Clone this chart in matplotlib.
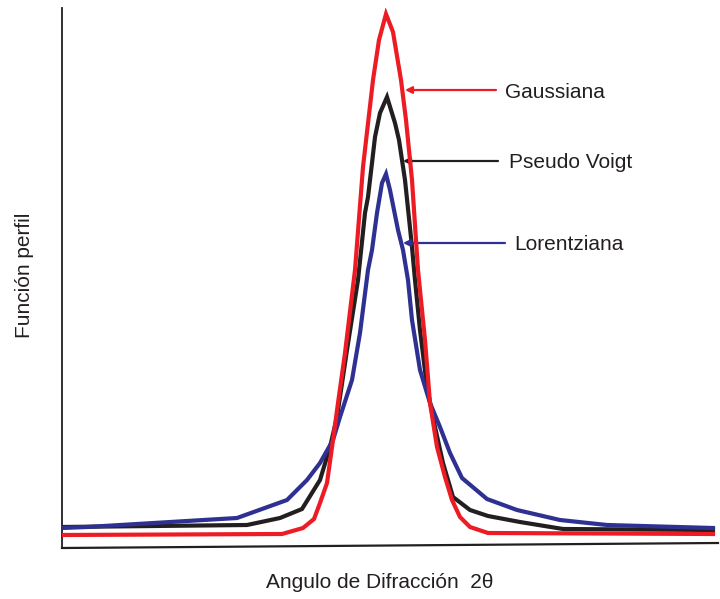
import matplotlib
matplotlib.use("Agg")
import matplotlib.pyplot as plt

plt.rcParams['font.family'] = ['Liberation Sans', 'DejaVu Sans']

# Curves: x position (arbitrary 2θ units), y = profile intensity (arbitrary units)
gauss_x = [0, 220, 241, 252, 258, 265, 271, 276, 283, 293, 301, 311, 317, 324, 331, 339, 344, 350, 356, 363, 368, 375, 383, 390, 398, 408, 426, 651]
gauss_y = [13, 14, 20, 29, 45, 65, 108, 145, 195, 278, 381, 468, 508, 534, 516, 468, 428, 368, 278, 208, 145, 101, 71, 48, 31, 21, 15, 14]

voigt_x = [0, 185, 218, 240, 258, 268, 275, 285, 296, 303, 306, 310, 313, 318, 325, 333, 337, 343, 350, 353, 358, 365, 373, 381, 391, 408, 426, 458, 501, 651]
voigt_y = [21, 23, 30, 39, 68, 101, 131, 198, 268, 335, 351, 385, 411, 435, 451, 425, 408, 368, 301, 268, 218, 161, 121, 85, 51, 38, 32, 26, 19, 18]

lorentz_x = [0, 25, 175, 225, 245, 258, 271, 278, 290, 298, 306, 310, 315, 320, 324, 328, 336, 341, 346, 350, 358, 368, 378, 388, 400, 425, 455, 498, 545, 651]
lorentz_y = [20, 21, 30, 48, 68, 85, 108, 131, 168, 215, 278, 298, 335, 365, 374, 358, 318, 298, 268, 228, 178, 145, 121, 95, 70, 49, 38, 28, 23, 20]

labels = ["Gaussiana", "Pseudo Voigt", "Lorentziana"]
colors = ["#ED1C24", "#231F20", "#2E3192"]

fig = plt.figure(figsize=(7.2, 5.99), dpi=100)
ax = fig.add_axes([62/720, 51/599, 656/720, 540/599])
ax.set_xlim(0, 656)
ax.set_ylim(0, 540)

lw = 3.0
ax.plot(voigt_x, voigt_y, color=colors[1], lw=lw, solid_joinstyle='miter', zorder=3)
ax.plot(lorentz_x, lorentz_y, color=colors[2], lw=lw, solid_joinstyle='miter', zorder=4)
ax.plot(gauss_x, gauss_y, color=colors[0], lw=lw, solid_joinstyle='miter', zorder=5)

for s in ['top', 'right', 'bottom']:
    ax.spines[s].set_visible(False)
ax.spines['left'].set_linewidth(1.3)
ax.spines['left'].set_color('#231F20')
# slightly slanted baseline as in the original drawing
ax.plot([0, 1], [0, 5/540], transform=ax.transAxes, color='#231F20', lw=1.6, clip_on=False, zorder=6)
ax.set_xticks([])
ax.set_yticks([])

# annotations: (arrow tip x, y, tail x, label x, label y)
ann = [
    (343, 458, 434, 443, 456),
    (341, 387, 436, 447, 386),
    (341, 305, 443, 452, 303),
]
for (lab, col, (tx, ty, sx, txx, tyy)) in zip(labels, colors, ann):
    ax.annotate('', xy=(tx, ty), xytext=(sx, ty),
                arrowprops=dict(arrowstyle='-|>', color=col, lw=1.6,
                                mutation_scale=10, shrinkA=0, shrinkB=0))
    ax.text(txx, tyy, lab, fontsize=15, color='#231F20', va='center', ha='left')

fig.text(380/720, 1 - 582/599, "Angulo de Difracción  2θ", fontsize=15,
         color='#231F20', ha='center', va='center')
fig.text(25/720, 1 - 275/599, "Función perfil", fontsize=15, color='#231F20',
         ha='center', va='center', rotation=90)

fig.savefig("out.png", dpi=100)
